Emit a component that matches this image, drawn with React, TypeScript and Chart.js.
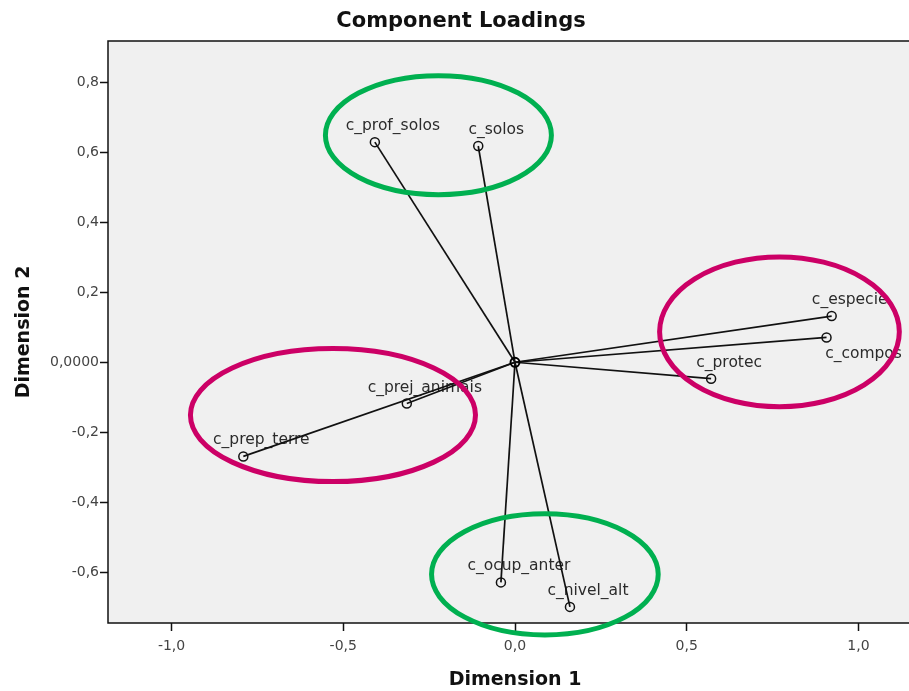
import React, { useEffect, useRef } from 'react';
import { Chart, registerables } from 'chart.js';

Chart.register(...registerables);

// ---- data ----
const variables = [
  'c_prof_solos',
  'c_solos',
  'c_especie',
  'c_compos',
  'c_protec',
  'c_prej_animais',
  'c_prep_terre',
  'c_ocup_anter',
  'c_nivel_alt',
];
const dim1 = [-0.408, -0.107, 0.922, 0.907, 0.571, -0.315, -0.791, -0.041, 0.16];
const dim2 = [0.629, 0.618, 0.132, 0.071, -0.047, -0.118, -0.269, -0.629, -0.699];
const labelBelow = ['c_compos'];

const xTickValues = [-1, -0.5, 0, 0.5, 1];
const xTickLabels = ['-1,0', '-0,5', '0,0', '0,5', '1,0'];
const yTickValues = [0.8, 0.6, 0.4, 0.2, 0, -0.2, -0.4, -0.6];
const yTickLabels = ['0,8', '0,6', '0,4', '0,2', '0,0000', '-0,2', '-0,4', '-0,6'];
const xRange = [-1.185, 1.185];
const yRange = [-0.745, 0.918];

// highlighted groups (ellipses), in data units
const groupCx = [-0.223, 0.77, -0.53, 0.087];
const groupCy = [0.649, 0.087, -0.151, -0.606];
const groupRx = [0.329, 0.349, 0.415, 0.33];
const groupRy = [0.17, 0.214, 0.19, 0.173];
const groupColors = ['#00b050', '#cc0066', '#cc0066', '#00b050'];

const FONT = '"DejaVu Sans", "Liberation Sans", Arial, sans-serif';

const lookup = (vals: number[], labels: string[], v: number) => {
  const i = vals.findIndex((t) => Math.abs(t - v) < 1e-9);
  return i >= 0 ? labels[i] : '';
};

const backgroundPlugin = {
  id: 'plotBackground',
  beforeDraw(chart: any) {
    const { ctx, chartArea: a } = chart;
    ctx.save();
    ctx.fillStyle = '#f0f0f0';
    ctx.fillRect(a.left, a.top, a.right - a.left, a.bottom - a.top);
    ctx.restore();
  },
};

const labelsPlugin = {
  id: 'pointLabels',
  beforeDatasetsDraw(chart: any) {
    const { ctx, chartArea: a, scales } = chart;
    const x = scales.x;
    const y = scales.y;
    ctx.save();
    // frame
    ctx.strokeStyle = '#111';
    ctx.lineWidth = 1.5;
    ctx.strokeRect(a.left, a.top, a.right - a.left, a.bottom - a.top);
    // labels
    ctx.font = '15.5px ' + FONT;
    ctx.fillStyle = '#2b2b2b';
    ctx.textAlign = 'center';
    ctx.textBaseline = 'alphabetic';
    variables.forEach((name, i) => {
      const px = x.getPixelForValue(dim1[i]);
      const py = y.getPixelForValue(dim2[i]);
      if (labelBelow.includes(name)) ctx.fillText(name, px + 37, py + 21);
      else ctx.fillText(name, px + 18, py - 12);
    });
    ctx.restore();
  },
};

const ellipsePlugin = {
  id: 'groupEllipses',
  afterDraw(chart: any) {
    const { ctx, scales } = chart;
    const x = scales.x;
    const y = scales.y;
    ctx.save();
    ctx.lineWidth = 5;
    groupCx.forEach((cx, i) => {
      const px = x.getPixelForValue(cx);
      const py = y.getPixelForValue(groupCy[i]);
      const rx = Math.abs(x.getPixelForValue(cx + groupRx[i]) - px);
      const ry = Math.abs(y.getPixelForValue(groupCy[i] + groupRy[i]) - py);
      ctx.beginPath();
      ctx.ellipse(px, py, rx, ry, 0, 0, Math.PI * 2);
      ctx.strokeStyle = groupColors[i];
      ctx.stroke();
    });
    ctx.restore();
  },
};

export default function App() {
  const canvasRef = useRef<HTMLCanvasElement | null>(null);

  useEffect(() => {
    if (!canvasRef.current) return;

    const lineSets = variables.map((name, i) => ({
      label: name,
      data: [
        { x: 0, y: 0 },
        { x: dim1[i], y: dim2[i] },
      ],
      showLine: true,
      borderColor: '#111',
      borderWidth: 1.7,
      pointRadius: (c: any) => (c.dataIndex === 0 && i === 0 ? 4.5 : 0),
      pointBorderColor: '#000',
      pointBorderWidth: 2,
      pointBackgroundColor: 'rgba(0,0,0,0)',
      order: 2,
    }));

    const pointSet = {
      label: 'loadings',
      data: variables.map((_, i) => ({ x: dim1[i], y: dim2[i] })),
      showLine: false,
      pointRadius: 4.5,
      pointBorderWidth: 1.5,
      pointBorderColor: '#111',
      pointBackgroundColor: 'rgba(0,0,0,0)',
      order: 1,
    };

    const chart = new Chart(canvasRef.current, {
      type: 'scatter',
      data: { datasets: [...lineSets, pointSet] as any },
      options: {
        animation: false,
        responsive: false,
        events: [],
        layout: { autoPadding: false, padding: { left: 0, right: 0, top: 0, bottom: 0 } },
        plugins: {
          legend: { display: false },
          tooltip: { enabled: false },
          title: {
            display: true,
            text: 'Component Loadings',
            color: '#111',
            font: { family: FONT, size: 21, weight: 'bold', lineHeight: 1.2 },
            padding: { top: 9, bottom: 6.8 },
          },
        },
        scales: {
          x: {
            type: 'linear',
            min: xRange[0],
            max: xRange[1],
            afterBuildTicks: (s: any) => {
              s.ticks = xTickValues.map((v) => ({ value: v }));
            },
            afterFit: (s: any) => {
              s.height = 68;
              s.paddingLeft = 0;
              s.paddingRight = 0;
            },
            ticks: {
              color: '#444',
              font: { family: FONT, size: 14 },
              padding: 7,
              maxRotation: 0,
              autoSkip: false,
              callback: (v: any) => lookup(xTickValues, xTickLabels, Number(v)),
            },
            grid: {
              drawOnChartArea: false,
              drawTicks: true,
              tickLength: 8,
              tickColor: '#111',
              tickWidth: 1.5,
              color: '#111',
            },
            border: { display: false },
            title: {
              display: true,
              text: 'Dimension 1',
              color: '#111',
              font: { family: FONT, size: 19, weight: 'bold', lineHeight: 1 },
              padding: { top: 0, bottom: 1 },
            },
          },
          y: {
            type: 'linear',
            min: yRange[0],
            max: yRange[1],
            afterBuildTicks: (s: any) => {
              s.ticks = yTickValues.map((v) => ({ value: v }));
            },
            afterFit: (s: any) => {
              s.width = 108;
              s.paddingTop = 0;
              s.paddingBottom = 0;
            },
            ticks: {
              color: '#444',
              font: { family: FONT, size: 14 },
              padding: 1,
              autoSkip: false,
              callback: (v: any) => lookup(yTickValues, yTickLabels, Number(v)),
            },
            grid: {
              drawOnChartArea: false,
              drawTicks: true,
              tickLength: 8,
              tickColor: '#111',
              tickWidth: 1.5,
              color: '#111',
            },
            border: { display: false },
            title: {
              display: true,
              text: 'Dimension 2',
              color: '#111',
              font: { family: FONT, size: 19, weight: 'bold', lineHeight: 1 },
              padding: { top: 14.5, bottom: 0 },
            },
          },
        },
      },
      plugins: [backgroundPlugin, labelsPlugin, ellipsePlugin],
    });

    return () => chart.destroy();
  }, []);

  return (
    <div
      style={{
        position: 'absolute',
        left: 0,
        top: 0,
        width: 909,
        height: 691,
        overflow: 'hidden',
        background: '#fff',
      }}
    >
      <canvas ref={canvasRef} width={922} height={691} style={{ display: 'block' }} />
    </div>
  );
}
